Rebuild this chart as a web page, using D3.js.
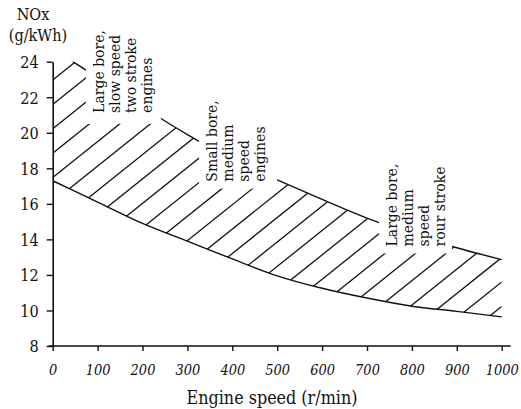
<!DOCTYPE html>
<html><head><meta charset="utf-8">
<script src="https://cdn.jsdelivr.net/npm/d3@7"></script>
<style>
html,body{margin:0;padding:0;background:#fff;}
svg{display:block;}
text{font-family:"DejaVu Serif",serif;fill:#111;}
</style></head>
<body>
<script>
// ---- data ----
const speeds = [0,100,200,300,400,500,600,700,800,900,1000];
const upperNOx = [24.75,23.1,21.45,19.9,18.5,17.35,16.25,15.2,14.3,13.53,12.86];
const lowerNOx = [17.3,16.1,14.9,13.9,12.9,11.95,11.25,10.7,10.24,9.95,9.64];
const xTickValues = [0,100,200,300,400,500,600,700,800,900,1000];
const yTickValues = [8,10,12,14,16,18,20,22,24];
const label1Lines = ["Large bore,","slow speed","two stroke","engines"];
const label2Lines = ["Small bore,","medium","speed","engines"];
const label3Lines = ["Large bore,","medium","speed","rour stroke"];
const yTitleLines = ["NOx","(g/kWh)"];
const xTitle = "Engine speed (r/min)";

// ---- layout ----
const W = 521, H = 409;
const STRETCH = 1.2; // reference type looks vertically stretched
const svg = d3.select("body").append("svg").attr("width",W).attr("height",H);
const x = d3.scaleLinear().domain([0,1000]).range([52.7,501.7]);
const y = d3.scaleLinear().domain([8,24]).range([346,61.7]);

const upperPts = speeds.map((s,i)=>[s,upperNOx[i]]);
const lowerPts = speeds.map((s,i)=>[s,lowerNOx[i]]);
const curve = d3.curveMonotoneX;

const defs = svg.append("defs");
defs.append("clipPath").attr("id","band").append("path")
  .attr("d", d3.area().curve(curve).x((d,i)=>x(speeds[i])).y0((d,i)=>y(lowerNOx[i])).y1((d,i)=>y(upperNOx[i]))(speeds));
defs.append("clipPath").attr("id","plot").append("rect")
  .attr("x",x(0)).attr("y",y(24)).attr("width",x(1000)-x(0)+1).attr("height",y(8)-y(24));

// hatch lines
const hatchG = svg.append("g").attr("clip-path","url(#plot)").append("g").attr("clip-path","url(#band)");
const slope = 0.8, spacingPx = 24.4, anchorPx = y(22.97);
const hatch = d3.range(-2, 30).map(k => anchorPx + k*spacingPx);
hatchG.selectAll("line").data(hatch).join("line")
  .attr("x1", x(0)).attr("y1", d=>d)
  .attr("x2", x(1000)).attr("y2", d=>d - slope*(x(1000)-x(0)))
  .attr("stroke","#111").attr("stroke-width",1.3);

// curves
const line = d3.line().curve(curve).x(d=>x(d[0])).y(d=>y(d[1]));
const curvesG = svg.append("g").attr("clip-path","url(#plot)");
curvesG.append("path").attr("d", line(upperPts)).attr("fill","none").attr("stroke","#111").attr("stroke-width",1.4);
curvesG.append("path").attr("d", line(lowerPts)).attr("fill","none").attr("stroke","#111").attr("stroke-width",1.4);

// labels with white background knocking out hatch/curve
const labelLayout = [
  {lines:label1Lines, sx:114, v:21.12, pad:[5,6,11]},
  {lines:label2Lines, sx:366, v:17.25, pad:[5,9,7]},
  {lines:label3Lines, sx:767, v:13.6, pad:[5,4,7]}
];
const lineGap = 16;
labelLayout.forEach(L=>{
  const g = svg.append("g");
  const bg = g.append("rect").attr("fill","#fff");
  const px = x(L.sx), py = y(L.v);
  L.lines.forEach((t,i)=>{
    g.append("text").attr("x",px+i*lineGap).attr("y",py)
      .attr("transform",`rotate(-90,${px+i*lineGap},${py})`)
      .attr("font-size",14).text(t);
  });
  const bb = g.node().getBBox();
  bg.attr("x",bb.x-L.pad[0]).attr("y",bb.y-2)
    .attr("width",bb.width+L.pad[0]+L.pad[1]).attr("height",bb.height+2+L.pad[2]);
});

function stretchText(sel){
  sel.each(function(){
    const t = d3.select(this);
    const tx = +t.attr("x")||0, ty = +t.attr("y")||0;
    t.attr("transform", `translate(${tx},${ty}) scale(1,${STRETCH})`).attr("x",0).attr("y",0);
  });
}

// axes
const yAxis = svg.append("g").attr("transform",`translate(${x(0)},0)`)
  .call(d3.axisLeft(y).tickValues(yTickValues).tickSize(6).tickSizeOuter(0).tickPadding(8));
yAxis.select(".domain").attr("stroke","#111").attr("stroke-width",1.6);
yAxis.selectAll(".tick line").attr("stroke","#111").attr("stroke-width",1.4);
yAxis.selectAll(".tick text").attr("font-size",14.5).attr("font-family","DejaVu Serif").attr("fill","#111")
  .attr("dy",null).attr("dominant-baseline","central").call(stretchText);

const xAxis = svg.append("g").attr("transform",`translate(0,${y(8)})`)
  .call(d3.axisBottom(x).tickValues(xTickValues).tickFormat(d3.format("d")).tickSize(5).tickSizeOuter(0).tickPadding(8));
xAxis.select(".domain").remove();
xAxis.append("line").attr("x1",x(0)-4).attr("x2",x(1020)).attr("stroke","#111").attr("stroke-width",1.6);
xAxis.selectAll(".tick line").attr("stroke","#111").attr("stroke-width",1.4);
xAxis.selectAll(".tick text").attr("font-size",13).attr("font-family","DejaVu Serif")
  .attr("font-style","italic").attr("fill","#111").attr("dy",null).attr("y",29).call(stretchText);

// titles
const titles = svg.append("g");
titles.append("text").attr("x",33).attr("y",20).attr("text-anchor","middle").attr("font-size",14.5).text(yTitleLines[0]);
titles.append("text").attr("x",38).attr("y",41).attr("text-anchor","middle").attr("font-size",14.5).text(yTitleLines[1]);
titles.append("text").attr("x",272).attr("y",404).attr("text-anchor","middle").attr("font-size",16).text(xTitle);
titles.selectAll("text").call(stretchText);
</script>
</body></html>
